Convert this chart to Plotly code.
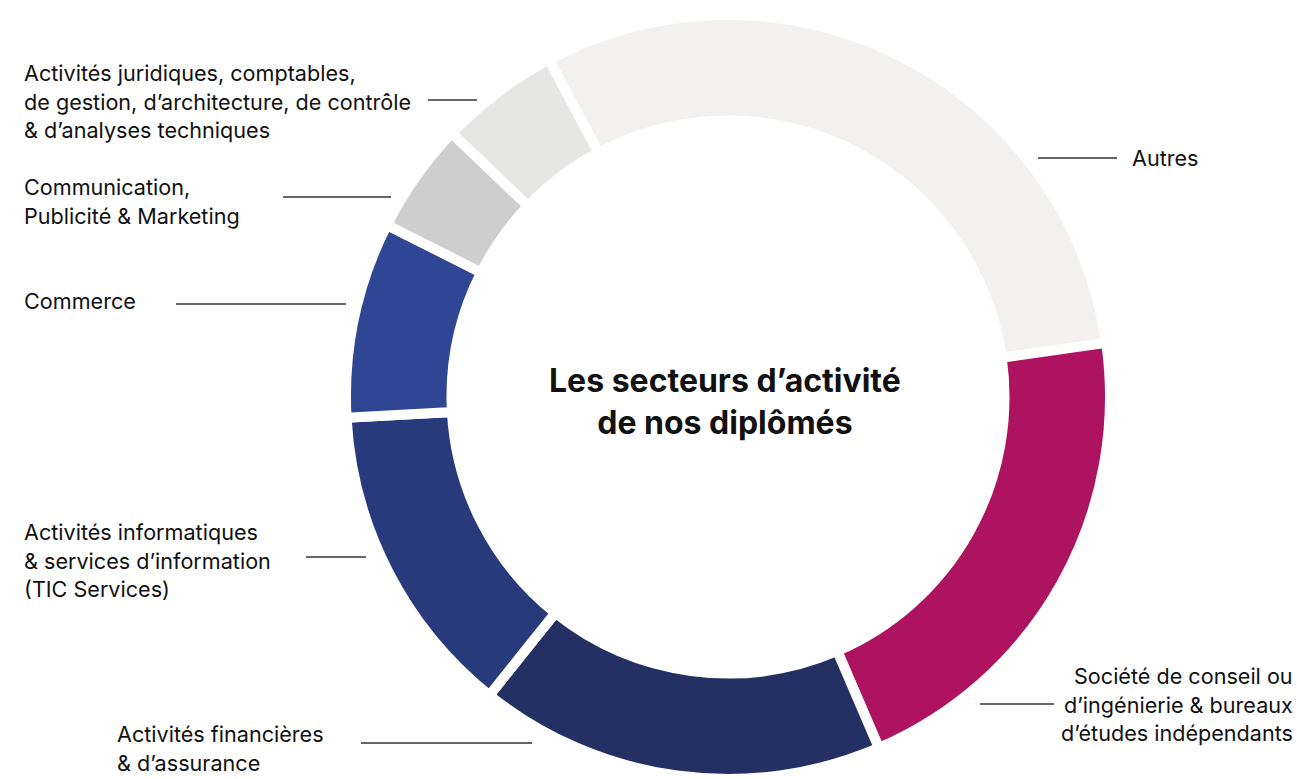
import plotly.graph_objects as go

W, H = 1297, 779

sectors = [
    "Autres",
    "Société de conseil ou\nd’ingénierie & bureaux\nd’études indépendants",
    "Activités financières\n& d’assurance",
    "Activités informatiques\n& services d’information\n(TIC Services)",
    "Commerce",
    "Communication,\nPublicité & Marketing",
    "Activités juridiques, comptables,\nde gestion, d’architecture, de contrôle\n& d’analyses techniques",
]
shares = [30.5, 20.8, 17.2, 13.4, 8.3, 4.7, 5.1]
colors = ["#f2f1f0", "#ae1360", "#243064", "#283a7b", "#2f4694", "#cfcecf", "#e6e6e5"]
title_lines = ["Les secteurs d’activité", "de nos diplômés"]

# label placement in pixels: (text x, anchor, first line y, line x0, line x1, line y)
placement = [
    (1130, "left", 158, 1038, 1117, 158),
    (1295, "right", 676, 980, 1054, 704),
    (115, "left", 734, 361, 532, 743),
    (22, "left", 532, 306, 366, 557),
    (22, "left", 301, 176, 346, 304),
    (22, "left", 187, 283, 391, 197),
    (22, "left", 73, 428, 477, 100),
]

cx, cy, R = 728, 397, 382
gap = 10

fig = go.Figure(go.Pie(
    labels=[s.replace("\n", " ") for s in sectors],
    values=shares,
    sort=False,
    direction="clockwise",
    rotation=-27.95,
    hole=(281.5 - gap / 2) / R,
    marker=dict(colors=colors, line=dict(color="white", width=gap)),
    textinfo="none",
    hoverinfo="label+percent",
    showlegend=False,
    domain=dict(x=[(cx - R) / W, (cx + R) / W], y=[0, 2 * R / H]),
))

px = lambda x: x / W
py = lambda y: 1 - y / H

annotations = []
shapes = []
LINE_H = 28.5
for text, (tx, anchor, ty, lx0, lx1, ly) in zip(sectors, placement):
    for i, line in enumerate(text.split("\n")):
        annotations.append(dict(
            x=px(tx), y=py(ty + i * LINE_H), xref="paper", yref="paper",
            text=line, showarrow=False, xanchor=anchor, yanchor="middle",
            font=dict(family="Inter", size=21.6, color="#111111"),
        ))
    shapes.append(dict(type="line", xref="paper", yref="paper",
                       x0=px(lx0), x1=px(lx1), y0=py(ly), y1=py(ly),
                       line=dict(color="#333333", width=1.5)))

annotations.append(dict(
    x=px(725), y=py(401), xref="paper", yref="paper",
    text="<br>".join("<b>" + t + "</b>" for t in title_lines),
    showarrow=False, xanchor="center", yanchor="middle", align="center",
    font=dict(family="Inter", size=32, color="#111111"),
))

fig.update_layout(
    width=W, height=H,
    margin=dict(l=0, r=0, t=0, b=0),
    paper_bgcolor="white", plot_bgcolor="white",
    annotations=annotations, shapes=shapes,
)

fig.write_html("out.html")
